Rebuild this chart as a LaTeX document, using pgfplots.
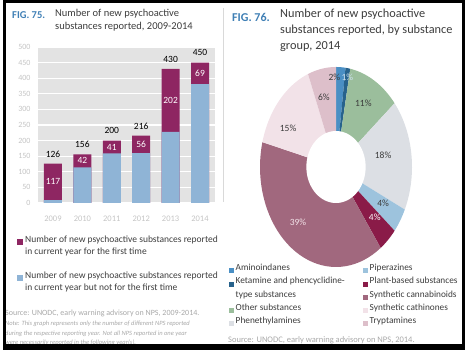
\documentclass[border=0pt]{standalone}
\usepackage{fontspec}
\setmainfont{Carlito}
\usepackage{pgfplots}
\pgfplotsset{compat=1.18}
\definecolor{figblue}{HTML}{3F7FB5}
\definecolor{titlegray}{HTML}{3C3C3C}
\definecolor{barmag}{HTML}{8E2662}
\definecolor{barblue}{HTML}{8FB4D6}
\definecolor{plotbg}{HTML}{E3E3E3}
\definecolor{ticklab}{HTML}{C4C4C4}
\definecolor{srcgray}{HTML}{A8A8A8}
\definecolor{camino}{HTML}{4A8FC4}
\definecolor{cket}{HTML}{27628C}
\definecolor{cother}{HTML}{9BBE9C}
\definecolor{cphen}{HTML}{DCDFE4}
\definecolor{cpip}{HTML}{9DC3DD}
\definecolor{cplant}{HTML}{8A1B48}
\definecolor{csyncan}{HTML}{A1687E}
\definecolor{csyncath}{HTML}{F2E2E8}
\definecolor{ctryp}{HTML}{DDBFCA}
\newcommand{\slice}[3]{\addplot[fill=#3, draw=none, domain=#1*3.6:#2*3.6, samples=40, forget plot] ({sin(x)},{cos(x)}) -- (axis cs:0,0) -- cycle;}
\newcommand{\lcol}[1]{\makebox[126pt][l]{#1}}
\begin{document}
\begin{tikzpicture}
\path (0pt,0pt) rectangle (468pt,352pt);
% separator
\draw[draw=black!15, line width=0.6pt] (223pt,344pt) -- (223pt,150pt);
% headers
\node[anchor=west, inner sep=0pt, text=figblue, font=\fontsize{10.5}{13}\selectfont\bfseries] at (12pt,337pt) {FIG. 75.};
\node[anchor=north west, inner sep=0pt, text=titlegray, align=left, font=\fontsize{10.5}{13}\selectfont] at (55pt,343pt) {Number of new psychoactive\\substances reported, 2009-2014};
\node[anchor=west, inner sep=0pt, text=figblue, font=\fontsize{12}{16}\selectfont\bfseries] at (232pt,335pt) {FIG. 76.};
\node[anchor=north west, inner sep=0pt, text=titlegray, align=left, font=\fontsize{12.3}{16}\selectfont] at (280pt,343pt) {Number of new psychoactive\\substances reported, by substance\\group, 2014};
% sources
\node[anchor=west, inner sep=0pt, text=srcgray, font=\fontsize{8}{9}\selectfont] at (5pt,39pt) {Source: UNODC, early warning advisory on NPS, 2009-2014.};
\node[anchor=north west, inner sep=0pt, text=srcgray, align=left, font=\fontsize{6.5}{9.5}\selectfont\itshape] at (5pt,31pt) {Note: This graph represents only the number of different NPS reported\\during the respective reporting year. Not all NPS reported in one year\\were necessarily reported in the following year(s).};
\node[anchor=west, inner sep=0pt, text=srcgray, font=\fontsize{8.5}{9}\selectfont] at (228pt,12pt) {Source: UNODC, early warning advisory on NPS, 2014.};

% bar chart
\begin{axis}[
  at={(38pt,149pt)}, anchor=south west, scale only axis,
  width=177pt, height=156pt,
  xmin=2008.49, xmax=2014.51, ymin=0, ymax=500,
  axis background/.style={fill=plotbg},
  axis line style={draw=none},
  major tick length=0pt,
  ytick={0,50,...,500}, xtick={2009,...,2014},
  ymajorgrids, grid style={white, line width=1.2pt},
  /pgf/number format/assume math mode=true,
  x tick label style={/pgf/number format/1000 sep={}, text=ticklab, font=\fontsize{8.5}{9}\selectfont, yshift=-9pt},
  y tick label style={text=ticklab, font=\fontsize{8}{9}\selectfont, xshift=-4pt},
  clip=false,
  legend image code/.code={\fill[#1, draw=none] (0pt,-3pt) rectangle (6pt,3pt);},
  legend cell align=left,
  legend style={at={(-0.119,-0.209)}, anchor=north west, draw=none, fill=none, inner sep=0pt, row sep=0pt,
    nodes={inner xsep=2pt, inner ysep=0pt, text height=7pt, text depth=5pt, font=\fontsize{9.5}{12}\selectfont, text=titlegray}},
]
\addplot[ybar, bar width=18pt, bar shift=0pt, fill=barmag, draw=none, forget plot,
  nodes near coords, nodes near coords style={anchor=south, yshift=3pt, text=black, font=\fontsize{9.5}{10}\selectfont, /pgf/number format/assume math mode=true}]
  coordinates {(2009,126) (2010,156) (2011,200) (2012,216) (2013,430) (2014,450)};
\addplot[ybar, bar width=18pt, bar shift=0pt, fill=barblue, draw=none, forget plot]
  coordinates {(2009,9) (2010,114) (2011,159) (2012,160) (2013,228) (2014,381)};
\addplot[draw=none, mark=none, forget plot, point meta=explicit symbolic,
  nodes near coords, nodes near coords style={anchor=center, text=white, font=\fontsize{9.5}{10}\selectfont}]
  coordinates {(2009,67.5)[117] (2010,135)[42] (2011,179.5)[41] (2012,188)[56] (2013,329)[202] (2014,415.5)[69]};
\addlegendimage{fill=barmag}
\addlegendentry{Number of new psychoactive substances reported}
\addlegendimage{empty legend}
\addlegendentry{in current year for the first time}
\addlegendimage{empty legend}
\addlegendentry{}
\addlegendimage{fill=barblue}
\addlegendentry{Number of new psychoactive substances reported}
\addlegendimage{empty legend}
\addlegendentry{in current year but not for the first time}
\end{axis}

% donut
\begin{axis}[
  at={(260pt,85pt)}, anchor=south west, scale only axis,
  width=152pt, height=200pt,
  xmin=-1, xmax=1, ymin=-1, ymax=1,
  hide axis, clip=false,
  legend image code/.code={\fill[#1, draw=none] (0pt,-2.5pt) rectangle (5pt,2.5pt);},
  legend cell align=left,
  legend columns=2,
  legend style={at={(-0.204,0.015)}, anchor=north west, draw=none, fill=none, inner sep=0pt, row sep=0pt,
    nodes={inner xsep=1.5pt, inner ysep=0pt, text height=6.5pt, text depth=6.75pt, font=\fontsize{9.3}{10}\selectfont, text=titlegray}},
]
\slice{0}{2}{camino}
\slice{2}{3}{cket}
\slice{3}{14}{cother}
\slice{14}{32}{cphen}
\slice{32}{36}{cpip}
\slice{36}{40}{cplant}
\slice{40}{79}{csyncan}
\slice{79}{94}{csyncath}
\slice{94}{100}{ctryp}
\addplot[fill=white, draw=none, domain=0:360, samples=90, forget plot] ({0.39*sin(x)},{0.36*cos(x)}) -- cycle;
\node[text=titlegray, font=\fontsize{9.5}{10}\selectfont] at (axis cs:-0.02,0.90) {2\%};
\node[text=cpip!50!white, font=\fontsize{9.5}{10}\selectfont] at (axis cs:0.15,0.90) {1\%};
\node[text=titlegray, font=\fontsize{9.5}{10}\selectfont] at (axis cs:-0.16,0.70) {6\%};
\node[text=titlegray, font=\fontsize{9.5}{10}\selectfont] at (axis cs:0.36,0.64) {11\%};
\node[text=titlegray, font=\fontsize{9.5}{10}\selectfont] at (axis cs:-0.63,0.39) {15\%};
\node[text=titlegray, font=\fontsize{9.5}{10}\selectfont] at (axis cs:0.62,0.12) {18\%};
\node[text=titlegray, font=\fontsize{9.5}{10}\selectfont] at (axis cs:0.62,-0.36) {4\%};
\node[text=white, font=\fontsize{9.5}{10}\selectfont] at (axis cs:0.51,-0.50) {4\%};
\node[text=csyncath, font=\fontsize{9.5}{10}\selectfont] at (axis cs:-0.5,-0.55) {39\%};
\addlegendimage{fill=camino}
\addlegendentry{\lcol{Aminoindanes}}
\addlegendimage{fill=cpip}
\addlegendentry{Piperazines}
\addlegendimage{fill=cket}
\addlegendentry{\lcol{Ketamine and phencyclidine-}}
\addlegendimage{fill=cplant}
\addlegendentry{Plant-based substances}
\addlegendimage{empty legend}
\addlegendentry{\lcol{type substances}}
\addlegendimage{fill=csyncan}
\addlegendentry{Synthetic cannabinoids}
\addlegendimage{fill=cother}
\addlegendentry{\lcol{Other substances}}
\addlegendimage{fill=csyncath}
\addlegendentry{Synthetic cathinones}
\addlegendimage{fill=cphen}
\addlegendentry{\lcol{Phenethylamines}}
\addlegendimage{fill=ctryp}
\addlegendentry{Tryptamines}
\end{axis}

% frame
\fill[black] (3pt,349pt) rectangle (465pt,352pt);
\fill[black] (3pt,2pt) rectangle (6pt,352pt);
\fill[black] (462pt,2pt) rectangle (465pt,352pt);
\fill[black] (3pt,2pt) rectangle (465pt,8pt);
\end{tikzpicture}
\end{document}
